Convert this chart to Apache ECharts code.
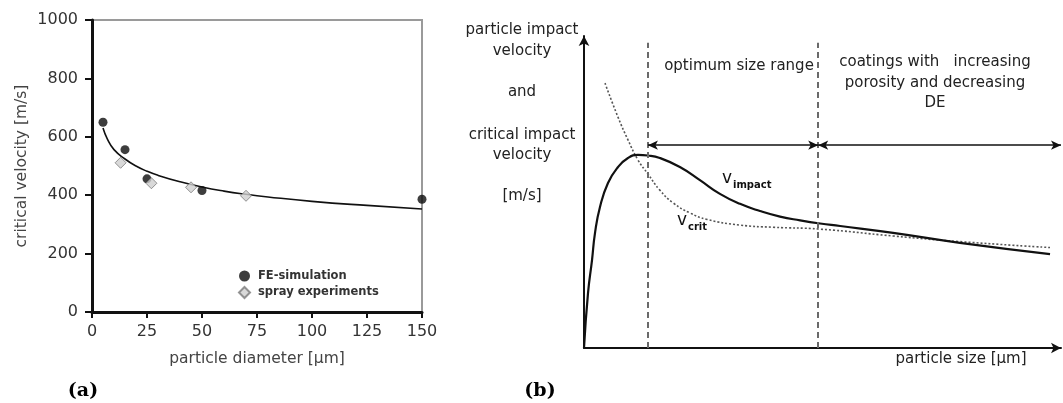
<!DOCTYPE html>
<html>
<head>
<meta charset="utf-8">
<script src="https://cdn.jsdelivr.net/npm/echarts@6/dist/echarts.min.js"></script>
<style>
  html, body { margin: 0; padding: 0; background: #fff; }
  #chart { width: 1063px; height: 403px; }
</style>
</head>
<body>
<div id="chart"></div>
<script>
// (a) critical velocity vs particle diameter
const feSimulation = [[5, 650], [15, 556], [25, 456], [50, 416], [150, 386]];
const sprayExperiments = [[13, 511], [27, 441], [45, 427], [70, 398]];
const fitCurve = [[5, 630], [7, 592], [10, 556], [15, 524], [20, 500], [25, 482], [30, 468],
  [40, 446], [50, 428], [60, 414], [70, 403], [80, 394], [100, 379], [125, 365], [150, 353]];
const diameterTicks = [0, 25, 50, 75, 100, 125, 150];
const velocityTicks = [0, 200, 400, 600, 800, 1000];

// (b) schematic: impact and critical velocity over particle size (relative units)
const impactCurve = [[0, 0], [0.84, 17.6], [1.68, 28.2], [2.31, 36.9], [3.35, 45.2], [5.03, 52.9],
  [7.13, 58], [9.22, 60.9], [11.3, 61.9], [13.4, 61.7], [15.9, 60.9], [20.1, 58], [24.3, 53.8],
  [28.5, 49.4], [32.7, 46.2], [36.9, 43.9], [41.1, 42.1], [45.3, 40.9], [49.5, 39.9],
  [53.7, 39.1], [64.8, 36.9], [78.8, 33.7], [97.7, 30.1]];
const critCurve = [[4.4, 84.9], [7.13, 74], [9.22, 66.7], [11.3, 60.3], [13.4, 55.8], [15.9, 50.6],
  [18.7, 46.5], [22.2, 43.3], [25.8, 41.2], [32.7, 39.4], [39.6, 38.7], [49.5, 38.1],
  [64.8, 35.9], [78.8, 34.1], [97.7, 32.2]];
const zoneBounds = [13.4, 49.1];
const zoneTop = 97.8;
const arrowLevel = 65;
const sizeEnd = 100;

const SANS = 'DejaVu Sans';
const chart = echarts.init(document.getElementById('chart'));

const boundaryLines = zoneBounds.map(x => [{ coord: [x, 0] }, { coord: [x, zoneTop] }]);
const rangeArrows = [
  [{ coord: [zoneBounds[0], arrowLevel] }, { coord: [zoneBounds[1], arrowLevel] }],
  [{ coord: [zoneBounds[1], arrowLevel] }, { coord: [sizeEnd, arrowLevel] }]
];

const txt = (text, x, y, extra) => ({
  type: 'text', x, y,
  style: Object.assign({ text, fontSize: 15, fontFamily: SANS, fill: '#222', align: 'center', verticalAlign: 'middle' }, extra || {})
});
const vMain = { fontSize: 17, fill: '#111', align: 'left' };
const vSub = { fontSize: 10, fontWeight: 'bold', fill: '#111', align: 'left' };

chart.setOption({
  animation: false,
  grid: [
    { left: 92, right: 641, top: 20, bottom: 91, show: true, borderColor: '#9a9a9a', borderWidth: 2, backgroundColor: 'transparent' },
    { left: 584, right: 2, top: 36, bottom: 55 }
  ],
  xAxis: [
    {
      gridIndex: 0, type: 'value', min: diameterTicks[0], max: diameterTicks[diameterTicks.length - 1], interval: 25,
      axisLine: { lineStyle: { color: '#111', width: 3 } },
      axisTick: { length: 6, lineStyle: { color: '#111', width: 2 } },
      axisLabel: { margin: 12, fontSize: 16, fontFamily: SANS, color: '#333', formatter: v => String(v) },
      splitLine: { show: false },
      name: 'particle diameter [μm]', nameLocation: 'middle', nameGap: 39,
      nameTextStyle: { fontSize: 15.5, fontFamily: SANS, color: '#444' }
    },
    {
      gridIndex: 1, type: 'value', min: 0, max: sizeEnd,
      axisLine: { lineStyle: { color: '#111', width: 2 }, symbol: ['none', 'arrow'], symbolSize: [8, 10] },
      axisTick: { show: false }, axisLabel: { show: false }, splitLine: { show: false }
    }
  ],
  yAxis: [
    {
      gridIndex: 0, type: 'value', min: velocityTicks[0], max: velocityTicks[velocityTicks.length - 1], interval: 200,
      axisLine: { show: true, lineStyle: { color: '#111', width: 3 } },
      axisTick: { show: true, length: 7, lineStyle: { color: '#111', width: 2 } },
      axisLabel: { margin: 14, fontSize: 16, fontFamily: SANS, color: '#333', formatter: v => String(v) },
      splitLine: { show: false },
      name: 'critical velocity [m/s]', nameLocation: 'middle', nameGap: 62, nameRotate: 90,
      nameTextStyle: { fontSize: 15.5, fontFamily: SANS, color: '#444' }
    },
    {
      gridIndex: 1, type: 'value', min: 0, max: 100,
      axisLine: { show: true, lineStyle: { color: '#111', width: 2 }, symbol: ['none', 'arrow'], symbolSize: [8, 10] },
      axisTick: { show: false }, axisLabel: { show: false }, splitLine: { show: false }
    }
  ],
  legend: {
    data: ['FE-simulation', 'spray experiments'],
    orient: 'vertical', left: 233, top: 265, itemWidth: 11, itemHeight: 11, itemGap: 4,
    textStyle: { fontSize: 11.5, fontWeight: 'bold', fontFamily: SANS, color: '#333', padding: [0, 0, 0, 3] }
  },
  series: [
    {
      name: 'fit', type: 'line', xAxisIndex: 0, yAxisIndex: 0, data: fitCurve,
      smooth: true, showSymbol: false, z: 2,
      lineStyle: { color: '#111', width: 1.6 }
    },
    {
      name: 'FE-simulation', type: 'scatter', xAxisIndex: 0, yAxisIndex: 0, data: feSimulation,
      symbol: 'circle', symbolSize: 9, z: 3,
      itemStyle: { color: '#0d0d0d' }
    },
    {
      name: 'spray experiments', type: 'scatter', xAxisIndex: 0, yAxisIndex: 0, data: sprayExperiments,
      symbol: 'diamond', symbolSize: 11, z: 3,
      itemStyle: { color: '#cfcfcf', borderColor: '#7a7a7a', borderWidth: 1 }
    },
    {
      name: 'v_crit', type: 'line', xAxisIndex: 1, yAxisIndex: 1, data: critCurve,
      smooth: true, showSymbol: false,
      lineStyle: { color: '#555', width: 1.6, type: [2, 2] },
      markLine: {
        silent: true, symbol: ['none', 'none'], label: { show: false },
        lineStyle: { color: '#6a6a6a', width: 2, type: [6, 4] },
        data: boundaryLines
      }
    },
    {
      name: 'v_impact', type: 'line', xAxisIndex: 1, yAxisIndex: 1, data: impactCurve,
      smooth: true, showSymbol: false,
      lineStyle: { color: '#111', width: 2.2 },
      markLine: {
        silent: true, symbol: ['arrow', 'arrow'], symbolSize: [7, 10], label: { show: false },
        lineStyle: { color: '#111', width: 1.6, type: 'solid' },
        data: rangeArrows
      }
    }
  ],
  graphic: [
    txt('particle impact', 522, 30),
    txt('velocity', 522, 51),
    txt('and', 522, 92),
    txt('critical impact', 522, 135),
    txt('velocity', 522, 155),
    txt('[m/s]', 522, 196),
    txt('optimum size range', 739, 66),
    txt('coatings with   increasing', 935, 62),
    txt('porosity and decreasing', 935, 83),
    txt('DE', 935, 103),
    txt('particle size [μm]', 961, 359),
    txt('v', 722, 179, vMain),
    txt('impact', 733, 185, vSub),
    txt('v', 677, 221, vMain),
    txt('crit', 688, 227, vSub),
    txt('(a)', 83, 391, { fontFamily: 'DejaVu Serif', fontWeight: 'bold', fontSize: 19, fill: '#000' }),
    txt('(b)', 540, 391, { fontFamily: 'DejaVu Serif', fontWeight: 'bold', fontSize: 19, fill: '#000' })
  ]
});
</script>
</body>
</html>
